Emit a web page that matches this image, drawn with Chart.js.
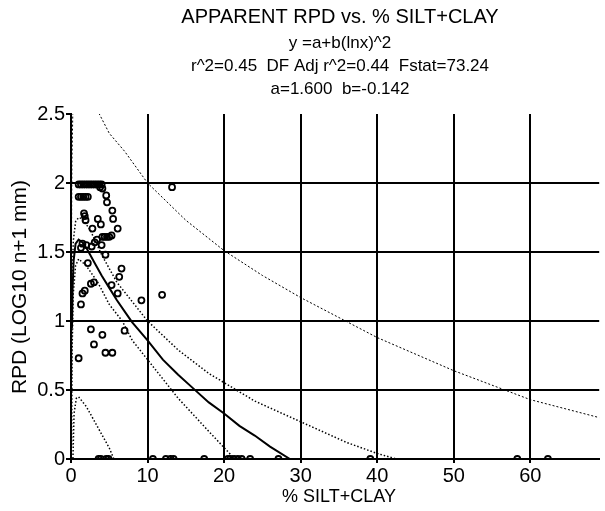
<!DOCTYPE html>
<html>
<head>
<meta charset="utf-8">
<script src="https://cdn.jsdelivr.net/npm/chart.js@4.4.1/dist/chart.umd.min.js"></script>
<style>
  body { margin: 0; background: #fff; }
</style>
</head>
<body>
<canvas id="rpdChart" width="605" height="511"></canvas>
<script>
const titleLines = [
  'APPARENT RPD vs. % SILT+CLAY',
  'y =a+b(lnx)^2',
  'r^2=0.45  DF Adj r^2=0.44  Fstat=73.24',
  'a=1.600  b=-0.142'
];
const xTitle = '% SILT+CLAY';
const yTitle = 'RPD (LOG10 n+1 mm)';
const xTicks = [0, 10, 20, 30, 40, 50, 60];
const yTicks = [0, 0.5, 1, 1.5, 2, 2.5];

// observed stations
const siltClay = [
  1.0, 1.3, 1.6, 1.9, 2.2, 2.5, 2.8, 3.1, 3.4, 3.7, 4.0,
  3.8, 4.1, 4.6, 4.7,
  1.0, 1.3, 1.6, 1.9, 2.2,
  13.2,
  5.4, 5.5, 6.1,
  1.7, 1.8, 1.9,
  3.5, 3.9, 2.8,
  4.1, 4.4, 4.7, 5.0, 5.3,
  3.4, 3.1,
  1.5, 1.3, 2.7, 4.0, 2.0,
  4.5, 2.2, 6.6, 6.3,
  3.0, 2.6, 5.3,
  1.8, 1.5, 6.1, 9.2, 11.9, 1.3,
  2.6, 4.1, 7.0, 3.0, 4.5, 5.4, 1.0,
  3.6, 3.9, 4.6, 4.9, 10.7, 12.4, 13.0, 13.4, 17.4, 20.5, 20.8, 21.3,
  21.8, 22.3, 23.4, 27.1, 39.1, 58.3, 62.3
];
const rpdObs = [
  1.99, 1.99, 1.99, 1.99, 1.99, 1.99, 1.99, 1.99, 1.99, 1.99, 1.99,
  1.97, 1.96, 1.91, 1.86,
  1.90, 1.90, 1.90, 1.90, 1.90,
  1.97,
  1.80, 1.74, 1.67,
  1.78, 1.76, 1.73,
  1.74, 1.70, 1.67,
  1.61, 1.61, 1.61, 1.61, 1.62,
  1.59, 1.57,
  1.56, 1.53, 1.54, 1.55, 1.55,
  1.48, 1.42, 1.38, 1.32,
  1.28, 1.27, 1.26,
  1.22, 1.20, 1.20, 1.15, 1.19, 1.12,
  0.94, 0.90, 0.93, 0.83, 0.77, 0.77, 0.73,
  0, 0, 0, 0, 0, 0, 0, 0, 0, 0, 0, 0,
  0, 0, 0, 0, 0, 0, 0
];

// fitted curve and bands
const fitX = [0.12, 0.2, 0.35, 0.6, 1.0, 1.5, 2, 3, 4, 5, 6, 7, 8, 10, 12, 14, 16, 18, 20, 22, 24, 26, 28.6];
const fitY = [0.95, 1.23, 1.44, 1.56, 1.59, 1.57, 1.53, 1.43, 1.33, 1.24, 1.15, 1.07, 0.99, 0.86, 0.72, 0.61, 0.51, 0.41, 0.33, 0.24, 0.17, 0.09, 0];
const ciUpX = [0.06, 0.15, 0.3, 0.6, 1.0, 1.5, 2.5, 4, 6, 8, 10, 14, 18, 24, 30, 36, 40, 42.5];
const ciUpY = [0.6, 1.3, 1.58, 1.72, 1.75, 1.74, 1.66, 1.48, 1.28, 1.14, 1.0, 0.79, 0.62, 0.42, 0.27, 0.12, 0.04, 0];
const ciLoX = [0.08, 0.15, 0.3, 0.6, 1.0, 2, 3.5, 5, 6.7, 8, 10, 14, 18, 21.4];
const ciLoY = [0.1, 0.8, 1.2, 1.4, 1.45, 1.40, 1.28, 1.12, 1.0, 0.86, 0.72, 0.44, 0.2, 0];
const piUpX = [0.02, 0.06, 0.12, 0.25, 1, 2, 3.7, 5, 7, 10, 15, 20, 25, 30, 40, 50, 60, 69];
const piUpY = [-0.2, 1.5, 2.15, 2.55, 2.8, 2.7, 2.5, 2.36, 2.23, 2.0, 1.73, 1.51, 1.33, 1.17, 0.88, 0.64, 0.43, 0.30];
const piLoX = [0.15, 0.25, 0.4, 0.7, 1, 2, 3, 4, 5, 5.6];
const piLoY = [-0.3, 0, 0.33, 0.44, 0.45, 0.38, 0.28, 0.18, 0.08, 0];

const FONT = '"Liberation Sans", Arial, sans-serif';

function toPoints(xs, ys) {
  return xs.map((x, i) => ({ x: x, y: ys[i] }));
}

function curve(xs, ys, dash, width) {
  return {
    data: toPoints(xs, ys),
    showLine: true,
    pointRadius: 0,
    borderColor: '#000',
    borderWidth: width,
    borderDash: dash,
    tension: 0,
    fill: false
  };
}

const textPlugin = {
  id: 'texts',
  afterDraw(chart) {
    const ctx = chart.ctx;
    ctx.save();
    ctx.fillStyle = '#000';
    ctx.textAlign = 'center';
    ctx.textBaseline = 'middle';
    ctx.font = '20px ' + FONT;
    ctx.fillText(titleLines[0], 340, 17);
    ctx.font = '17px ' + FONT;
    ctx.fillText(titleLines[1], 340, 43);
    ctx.fillText(titleLines[2], 340, 66);
    ctx.fillText(titleLines[3], 340, 89);
    ctx.font = '18px ' + FONT;
    ctx.fillText(xTitle, 339, 497);
    ctx.font = '21px ' + FONT;
    ctx.translate(20, 287);
    ctx.rotate(-Math.PI / 2);
    ctx.fillText(yTitle, 0, 0);
    ctx.restore();
  }
};

new Chart(document.getElementById('rpdChart'), {
  type: 'scatter',
  data: {
    datasets: [
      {
        data: toPoints(siltClay, rpdObs),
        pointRadius: 3,
        pointBorderWidth: 1.8,
        pointBorderColor: '#000',
        pointBackgroundColor: 'rgba(0,0,0,0)',
        showLine: false
      },
      curve(fitX, fitY, [], 2),
      curve(ciUpX, ciUpY, [1.5, 2], 1.5),
      curve(ciLoX, ciLoY, [1.5, 2], 1.5),
      curve(piUpX, piUpY, [2, 2], 1),
      curve(piLoX, piLoY, [1.5, 2], 1.5)
    ]
  },
  options: {
    responsive: false,
    animation: false,
    devicePixelRatio: 1,
    layout: { padding: { top: 114, left: 0, right: 0, bottom: 0 } },
    plugins: {
      legend: { display: false },
      tooltip: { enabled: false }
    },
    scales: {
      x: {
        type: 'linear',
        min: 0,
        max: 69,
        afterBuildTicks: (s) => { s.ticks = xTicks.map((v) => ({ value: v })); },
        afterFit: (s) => { s.height = 52; },
        grid: { color: '#000', lineWidth: 2, tickLength: 4 },
        border: { color: '#000', width: 2 },
        ticks: {
          color: '#000',
          font: { family: FONT, size: 20 },
          padding: 1,
          maxRotation: 0,
          callback: (v) => String(v)
        }
      },
      y: {
        min: 0,
        max: 2.5,
        afterBuildTicks: (s) => { s.ticks = yTicks.map((v) => ({ value: v })); },
        afterFit: (s) => { s.width = 71; },
        grid: {
          color: (c) => (c.tick && c.tick.value === 2.5 ? 'rgba(0,0,0,0)' : '#000'),
          tickColor: '#000',
          lineWidth: 2,
          tickLength: 5
        },
        border: { color: '#000', width: 2 },
        ticks: {
          color: '#000',
          font: { family: FONT, size: 20 },
          padding: 1,
          callback: (v) => String(v)
        }
      }
    }
  },
  plugins: [textPlugin]
});
</script>
</body>
</html>
